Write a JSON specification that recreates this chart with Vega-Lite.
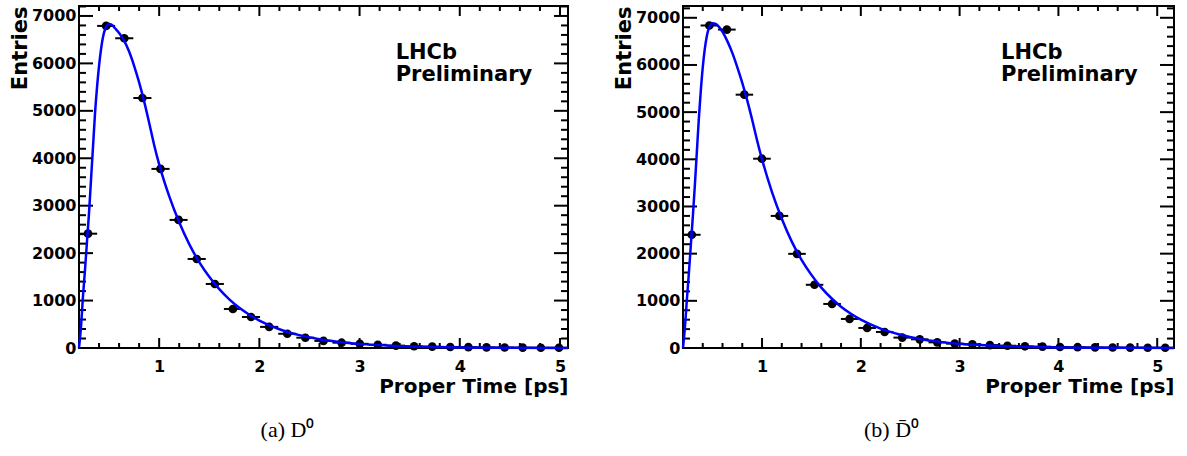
{
  "$schema": "https://vega.github.io/schema/vega-lite/v6.json",
  "background": "white",
  "padding": {"left": 8, "top": 4, "right": 0, "bottom": 0},
  "config": {
    "view": {"stroke": "black", "strokeWidth": 2},
    "axis": {
      "grid": false, "domain": false, "ticks": false, "format": "d",
      "labelFont": "DejaVu Sans", "labelFontWeight": "bold", "labelFontSize": 16, "labelColor": "black",
      "titleFont": "DejaVu Sans", "titleFontWeight": "bold", "titleColor": "black",
      "labelFlush": false, "labelOverlap": false
    },
    "axisX": {"titleFontSize": 20},
    "axisY": {"titleFontSize": 21},
    "rule": {"color": "black", "strokeWidth": 2}
  },
  "datasets": {
    "xmaj": [{"v": 1}, {"v": 2}, {"v": 3}, {"v": 4}, {"v": 5}],
    "xmin": [
      {"v": 0.2}, {"v": 0.4}, {"v": 0.6}, {"v": 0.8}, {"v": 1.2}, {"v": 1.4}, {"v": 1.6}, {"v": 1.8},
      {"v": 2.2}, {"v": 2.4}, {"v": 2.6}, {"v": 2.8}, {"v": 3.2}, {"v": 3.4}, {"v": 3.6}, {"v": 3.8},
      {"v": 4.2}, {"v": 4.4}, {"v": 4.6}, {"v": 4.8}
    ],
    "ymaj": [{"v": 0}, {"v": 1000}, {"v": 2000}, {"v": 3000}, {"v": 4000}, {"v": 5000}, {"v": 6000}, {"v": 7000}],
    "ymin": [
      {"v": 200}, {"v": 400}, {"v": 600}, {"v": 800}, {"v": 1200}, {"v": 1400}, {"v": 1600}, {"v": 1800},
      {"v": 2200}, {"v": 2400}, {"v": 2600}, {"v": 2800}, {"v": 3200}, {"v": 3400}, {"v": 3600}, {"v": 3800},
      {"v": 4200}, {"v": 4400}, {"v": 4600}, {"v": 4800}, {"v": 5200}, {"v": 5400}, {"v": 5600}, {"v": 5800},
      {"v": 6200}, {"v": 6400}, {"v": 6600}, {"v": 6800}, {"v": 7200}
    ],
    "d0_pts": [
      {"t": 0.290, "lo": 0.200, "hi": 0.381, "n": 2410},
      {"t": 0.471, "lo": 0.381, "hi": 0.561, "n": 6790},
      {"t": 0.652, "lo": 0.561, "hi": 0.742, "n": 6530},
      {"t": 0.833, "lo": 0.742, "hi": 0.923, "n": 5270},
      {"t": 1.013, "lo": 0.923, "hi": 1.104, "n": 3776},
      {"t": 1.194, "lo": 1.104, "hi": 1.284, "n": 2700},
      {"t": 1.375, "lo": 1.284, "hi": 1.465, "n": 1877},
      {"t": 1.556, "lo": 1.465, "hi": 1.646, "n": 1350},
      {"t": 1.736, "lo": 1.646, "hi": 1.826, "n": 823},
      {"t": 1.917, "lo": 1.826, "hi": 2.007, "n": 654},
      {"t": 2.098, "lo": 2.007, "hi": 2.188, "n": 445},
      {"t": 2.279, "lo": 2.188, "hi": 2.369, "n": 300},
      {"t": 2.459, "lo": 2.369, "hi": 2.549, "n": 217},
      {"t": 2.640, "lo": 2.549, "hi": 2.730, "n": 150},
      {"t": 2.821, "lo": 2.730, "hi": 2.911, "n": 112},
      {"t": 3.002, "lo": 2.911, "hi": 3.091, "n": 88},
      {"t": 3.182, "lo": 3.091, "hi": 3.272, "n": 68},
      {"t": 3.363, "lo": 3.272, "hi": 3.453, "n": 50},
      {"t": 3.544, "lo": 3.453, "hi": 3.634, "n": 36},
      {"t": 3.725, "lo": 3.634, "hi": 3.814, "n": 28},
      {"t": 3.905, "lo": 3.814, "hi": 3.995, "n": 22},
      {"t": 4.086, "lo": 3.995, "hi": 4.176, "n": 18},
      {"t": 4.267, "lo": 4.176, "hi": 4.356, "n": 14},
      {"t": 4.448, "lo": 4.356, "hi": 4.537, "n": 11},
      {"t": 4.628, "lo": 4.537, "hi": 4.718, "n": 8},
      {"t": 4.809, "lo": 4.718, "hi": 4.899, "n": 6},
      {"t": 4.990, "lo": 4.899, "hi": 5.080, "n": 5}
    ],
    "d0_fit": [
      {"t": 0.20, "f": 0}, {"t": 0.22, "f": 450}, {"t": 0.24, "f": 1100}, {"t": 0.26, "f": 1650},
      {"t": 0.28, "f": 2250}, {"t": 0.30, "f": 2850}, {"t": 0.32, "f": 3550}, {"t": 0.34, "f": 4250},
      {"t": 0.36, "f": 4950}, {"t": 0.38, "f": 5500}, {"t": 0.40, "f": 5950}, {"t": 0.42, "f": 6300},
      {"t": 0.44, "f": 6560}, {"t": 0.46, "f": 6720}, {"t": 0.48, "f": 6800}, {"t": 0.50, "f": 6830},
      {"t": 0.53, "f": 6810}, {"t": 0.56, "f": 6740}, {"t": 0.60, "f": 6640}, {"t": 0.65, "f": 6480},
      {"t": 0.70, "f": 6250}, {"t": 0.75, "f": 5950}, {"t": 0.80, "f": 5600}, {"t": 0.85, "f": 5200},
      {"t": 0.90, "f": 4750}, {"t": 0.95, "f": 4280}, {"t": 1.00, "f": 3870}, {"t": 1.10, "f": 3200},
      {"t": 1.20, "f": 2650}, {"t": 1.30, "f": 2190}, {"t": 1.40, "f": 1810}, {"t": 1.50, "f": 1500},
      {"t": 1.60, "f": 1240}, {"t": 1.70, "f": 1025}, {"t": 1.80, "f": 847}, {"t": 1.90, "f": 700},
      {"t": 2.00, "f": 579}, {"t": 2.20, "f": 396}, {"t": 2.40, "f": 271}, {"t": 2.60, "f": 185},
      {"t": 2.80, "f": 127}, {"t": 3.00, "f": 87}, {"t": 3.30, "f": 49}, {"t": 3.60, "f": 28},
      {"t": 4.00, "f": 13}, {"t": 4.50, "f": 5}, {"t": 5.08, "f": 2}
    ],
    "d0bar_pts": [
      {"t": 0.289, "lo": 0.200, "hi": 0.378, "n": 2400},
      {"t": 0.466, "lo": 0.378, "hi": 0.555, "n": 6837},
      {"t": 0.644, "lo": 0.555, "hi": 0.733, "n": 6750},
      {"t": 0.821, "lo": 0.733, "hi": 0.910, "n": 5370},
      {"t": 0.999, "lo": 0.910, "hi": 1.088, "n": 4013},
      {"t": 1.176, "lo": 1.088, "hi": 1.265, "n": 2800},
      {"t": 1.354, "lo": 1.265, "hi": 1.443, "n": 1996},
      {"t": 1.531, "lo": 1.443, "hi": 1.620, "n": 1340},
      {"t": 1.709, "lo": 1.620, "hi": 1.798, "n": 934},
      {"t": 1.886, "lo": 1.798, "hi": 1.975, "n": 616},
      {"t": 2.064, "lo": 1.975, "hi": 2.153, "n": 425},
      {"t": 2.241, "lo": 2.153, "hi": 2.330, "n": 340},
      {"t": 2.419, "lo": 2.330, "hi": 2.508, "n": 220},
      {"t": 2.596, "lo": 2.508, "hi": 2.685, "n": 184},
      {"t": 2.774, "lo": 2.685, "hi": 2.863, "n": 120},
      {"t": 2.951, "lo": 2.863, "hi": 3.040, "n": 92},
      {"t": 3.129, "lo": 3.040, "hi": 3.218, "n": 78},
      {"t": 3.306, "lo": 3.218, "hi": 3.395, "n": 62},
      {"t": 3.484, "lo": 3.395, "hi": 3.573, "n": 48},
      {"t": 3.661, "lo": 3.573, "hi": 3.750, "n": 36},
      {"t": 3.839, "lo": 3.750, "hi": 3.928, "n": 28},
      {"t": 4.016, "lo": 3.928, "hi": 4.105, "n": 22},
      {"t": 4.194, "lo": 4.105, "hi": 4.283, "n": 17},
      {"t": 4.371, "lo": 4.283, "hi": 4.460, "n": 13},
      {"t": 4.549, "lo": 4.460, "hi": 4.638, "n": 10},
      {"t": 4.726, "lo": 4.638, "hi": 4.815, "n": 8},
      {"t": 4.904, "lo": 4.815, "hi": 4.993, "n": 6},
      {"t": 5.081, "lo": 4.993, "hi": 5.170, "n": 5}
    ],
    "d0bar_fit": [
      {"t": 0.20, "f": 0}, {"t": 0.22, "f": 450}, {"t": 0.24, "f": 1050}, {"t": 0.26, "f": 1600},
      {"t": 0.28, "f": 2200}, {"t": 0.30, "f": 2800}, {"t": 0.32, "f": 3450}, {"t": 0.34, "f": 4150},
      {"t": 0.36, "f": 4850}, {"t": 0.38, "f": 5450}, {"t": 0.40, "f": 5950}, {"t": 0.42, "f": 6330},
      {"t": 0.44, "f": 6600}, {"t": 0.46, "f": 6770}, {"t": 0.48, "f": 6860}, {"t": 0.50, "f": 6885},
      {"t": 0.53, "f": 6870}, {"t": 0.56, "f": 6820}, {"t": 0.60, "f": 6700}, {"t": 0.65, "f": 6500},
      {"t": 0.70, "f": 6250}, {"t": 0.75, "f": 5950}, {"t": 0.80, "f": 5620}, {"t": 0.85, "f": 5250},
      {"t": 0.90, "f": 4840}, {"t": 0.95, "f": 4400}, {"t": 1.00, "f": 4000}, {"t": 1.10, "f": 3310},
      {"t": 1.20, "f": 2740}, {"t": 1.30, "f": 2260}, {"t": 1.40, "f": 1870}, {"t": 1.50, "f": 1550},
      {"t": 1.60, "f": 1280}, {"t": 1.70, "f": 1060}, {"t": 1.80, "f": 875}, {"t": 1.90, "f": 725},
      {"t": 2.00, "f": 600}, {"t": 2.20, "f": 410}, {"t": 2.40, "f": 280}, {"t": 2.60, "f": 190},
      {"t": 2.80, "f": 130}, {"t": 3.00, "f": 89}, {"t": 3.30, "f": 51}, {"t": 3.60, "f": 29},
      {"t": 4.00, "f": 13}, {"t": 4.50, "f": 5}, {"t": 5.17, "f": 2}
    ]
  },
  "spacing": 115,
  "bounds": "flush",
  "hconcat": [
    {
      "width": 489,
      "height": 342,
      "title": {"text": "(a) D⁰", "orient": "bottom", "anchor": "middle", "frame": "group", "dx": -36, "offset": 24,
                "font": "Liberation Serif", "fontSize": 22, "fontWeight": "normal", "color": "black"},
      "layer": [
        {
          "data": {"name": "d0_pts"},
          "mark": {"type": "rule"},
          "encoding": {
            "x": {"field": "lo", "type": "quantitative",
                  "scale": {"domain": [0.2, 5.08], "nice": false, "zero": false},
                  "axis": {"orient": "bottom", "values": [1, 2, 3, 4, 5],
                           "title": "Proper Time [ps]", "titleAnchor": "end", "labelPadding": 10, "titlePadding": 2}},
            "x2": {"field": "hi"},
            "y": {"field": "n", "type": "quantitative",
                  "scale": {"domain": [0, 7210], "nice": false},
                  "axis": {"orient": "left", "values": [0, 1000, 2000, 3000, 4000, 5000, 6000, 7000],
                           "title": "Entries", "titleAnchor": "end", "labelPadding": 3, "titlePadding": 1}}
          }
        },
        {
          "data": {"name": "xmaj"},
          "mark": {"type": "rule"},
          "encoding": {
            "x": {"field": "v", "type": "quantitative"},
            "y": {"datum": 0, "type": "quantitative"}, "y2": {"datum": 211}
          }
        },
        {
          "data": {"name": "xmaj"},
          "mark": {"type": "rule"},
          "encoding": {
            "x": {"field": "v", "type": "quantitative"},
            "y": {"datum": 7210, "type": "quantitative"}, "y2": {"datum": 6999}
          }
        },
        {
          "data": {"name": "xmin"},
          "mark": {"type": "rule"},
          "encoding": {
            "x": {"field": "v", "type": "quantitative"},
            "y": {"datum": 0, "type": "quantitative"}, "y2": {"datum": 105}
          }
        },
        {
          "data": {"name": "xmin"},
          "mark": {"type": "rule"},
          "encoding": {
            "x": {"field": "v", "type": "quantitative"},
            "y": {"datum": 7210, "type": "quantitative"}, "y2": {"datum": 7105}
          }
        },
        {
          "data": {"name": "ymaj"},
          "mark": {"type": "rule"},
          "encoding": {
            "y": {"field": "v", "type": "quantitative"},
            "x": {"datum": 0.2, "type": "quantitative"}, "x2": {"datum": 0.34}
          }
        },
        {
          "data": {"name": "ymaj"},
          "mark": {"type": "rule"},
          "encoding": {
            "y": {"field": "v", "type": "quantitative"},
            "x": {"datum": 5.08, "type": "quantitative"}, "x2": {"datum": 4.94}
          }
        },
        {
          "data": {"name": "ymin"},
          "mark": {"type": "rule"},
          "encoding": {
            "y": {"field": "v", "type": "quantitative"},
            "x": {"datum": 0.2, "type": "quantitative"}, "x2": {"datum": 0.27}
          }
        },
        {
          "data": {"name": "ymin"},
          "mark": {"type": "rule"},
          "encoding": {
            "y": {"field": "v", "type": "quantitative"},
            "x": {"datum": 5.08, "type": "quantitative"}, "x2": {"datum": 5.01}
          }
        },
        {
          "data": {"name": "d0_pts"},
          "mark": {"type": "circle", "color": "black", "opacity": 1, "size": 75},
          "encoding": {
            "x": {"field": "t", "type": "quantitative"},
            "y": {"field": "n", "type": "quantitative"}
          }
        },
        {
          "data": {"name": "d0_fit"},
          "mark": {"type": "line", "color": "#0000ff", "strokeWidth": 2.5, "interpolate": "monotone"},
          "encoding": {
            "x": {"field": "t", "type": "quantitative"},
            "y": {"field": "f", "type": "quantitative"}
          }
        },
        {
          "data": {"values": [{}]},
          "mark": {"type": "text", "text": ["LHCb", "Preliminary"], "align": "left", "baseline": "alphabetic",
                   "font": "DejaVu Sans", "fontWeight": "bold", "fontSize": 21, "lineHeight": 22, "color": "black"},
          "encoding": {
            "x": {"datum": 3.36, "type": "quantitative"},
            "y": {"datum": 6083, "type": "quantitative"}
          }
        }
      ]
    },
    {
      "width": 491,
      "height": 342,
      "title": {"text": "(b) D̄⁰", "orient": "bottom", "anchor": "middle", "frame": "group", "dx": -37, "offset": 24,
                "font": "Liberation Serif", "fontSize": 22, "fontWeight": "normal", "color": "black"},
      "layer": [
        {
          "data": {"name": "d0bar_pts"},
          "mark": {"type": "rule"},
          "encoding": {
            "x": {"field": "lo", "type": "quantitative",
                  "scale": {"domain": [0.2, 5.17], "nice": false, "zero": false},
                  "axis": {"orient": "bottom", "values": [1, 2, 3, 4, 5],
                           "title": "Proper Time [ps]", "titleAnchor": "end", "labelPadding": 10, "titlePadding": 2}},
            "x2": {"field": "hi"},
            "y": {"field": "n", "type": "quantitative",
                  "scale": {"domain": [0, 7250], "nice": false},
                  "axis": {"orient": "left", "values": [0, 1000, 2000, 3000, 4000, 5000, 6000, 7000],
                           "title": "Entries", "titleAnchor": "end", "labelPadding": 3, "titlePadding": 1}}
          }
        },
        {
          "data": {"name": "xmaj"},
          "mark": {"type": "rule"},
          "encoding": {
            "x": {"field": "v", "type": "quantitative"},
            "y": {"datum": 0, "type": "quantitative"}, "y2": {"datum": 212}
          }
        },
        {
          "data": {"name": "xmaj"},
          "mark": {"type": "rule"},
          "encoding": {
            "x": {"field": "v", "type": "quantitative"},
            "y": {"datum": 7250, "type": "quantitative"}, "y2": {"datum": 7038}
          }
        },
        {
          "data": {"name": "xmin"},
          "mark": {"type": "rule"},
          "encoding": {
            "x": {"field": "v", "type": "quantitative"},
            "y": {"datum": 0, "type": "quantitative"}, "y2": {"datum": 106}
          }
        },
        {
          "data": {"name": "xmin"},
          "mark": {"type": "rule"},
          "encoding": {
            "x": {"field": "v", "type": "quantitative"},
            "y": {"datum": 7250, "type": "quantitative"}, "y2": {"datum": 7144}
          }
        },
        {
          "data": {"name": "ymaj"},
          "mark": {"type": "rule"},
          "encoding": {
            "y": {"field": "v", "type": "quantitative"},
            "x": {"datum": 0.2, "type": "quantitative"}, "x2": {"datum": 0.342}
          }
        },
        {
          "data": {"name": "ymaj"},
          "mark": {"type": "rule"},
          "encoding": {
            "y": {"field": "v", "type": "quantitative"},
            "x": {"datum": 5.17, "type": "quantitative"}, "x2": {"datum": 5.028}
          }
        },
        {
          "data": {"name": "ymin"},
          "mark": {"type": "rule"},
          "encoding": {
            "y": {"field": "v", "type": "quantitative"},
            "x": {"datum": 0.2, "type": "quantitative"}, "x2": {"datum": 0.271}
          }
        },
        {
          "data": {"name": "ymin"},
          "mark": {"type": "rule"},
          "encoding": {
            "y": {"field": "v", "type": "quantitative"},
            "x": {"datum": 5.17, "type": "quantitative"}, "x2": {"datum": 5.099}
          }
        },
        {
          "data": {"name": "d0bar_pts"},
          "mark": {"type": "circle", "color": "black", "opacity": 1, "size": 75},
          "encoding": {
            "x": {"field": "t", "type": "quantitative"},
            "y": {"field": "n", "type": "quantitative"}
          }
        },
        {
          "data": {"name": "d0bar_fit"},
          "mark": {"type": "line", "color": "#0000ff", "strokeWidth": 2.5, "interpolate": "monotone"},
          "encoding": {
            "x": {"field": "t", "type": "quantitative"},
            "y": {"field": "f", "type": "quantitative"}
          }
        },
        {
          "data": {"values": [{}]},
          "mark": {"type": "text", "text": ["LHCb", "Preliminary"], "align": "left", "baseline": "alphabetic",
                   "font": "DejaVu Sans", "fontWeight": "bold", "fontSize": 21, "lineHeight": 22, "color": "black"},
          "encoding": {
            "x": {"datum": 3.42, "type": "quantitative"},
            "y": {"datum": 6118, "type": "quantitative"}
          }
        }
      ]
    }
  ]
}
